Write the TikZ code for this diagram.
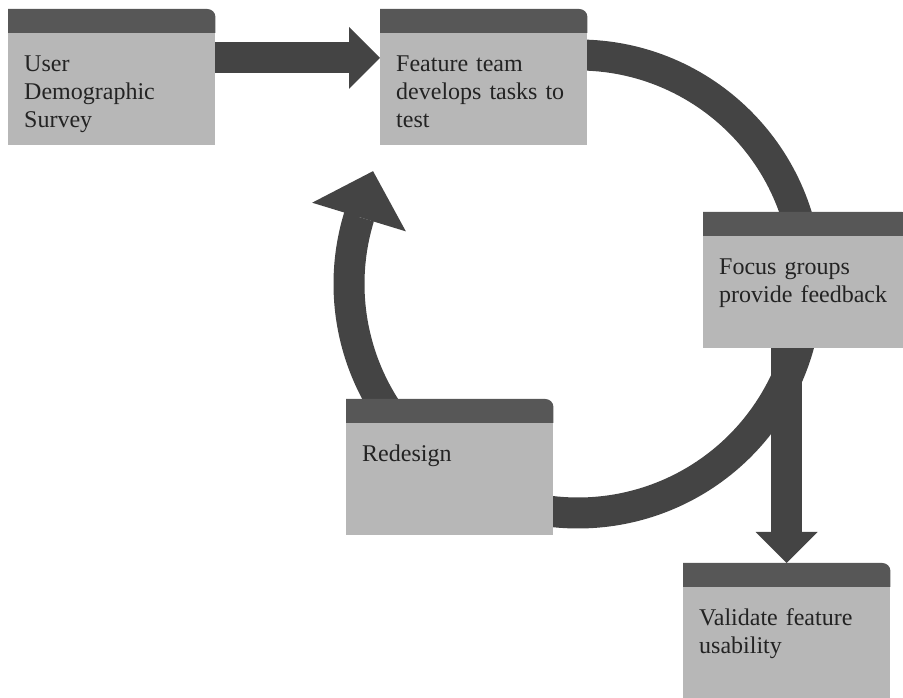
\documentclass[tikz,border=0pt]{standalone}
\usepackage{fontspec}
\setmainfont{Liberation Serif}
\usetikzlibrary{arrows.meta,calc}
\definecolor{Ink}{RGB}{35,35,35}
\definecolor{CardGray}{RGB}{183,183,183}
\definecolor{TabGray}{RGB}{87,87,87}
\definecolor{FlowGray}{RGB}{68,68,68}
\pgfdeclarelayer{flows}
\pgfdeclarelayer{cards}
\pgfsetlayers{flows,cards,main}
\newcommand{\cardfont}{\fontsize{24}{28}\selectfont}
\tikzset{
  card/.style={rectangle,anchor=north west,inner xsep=16pt,inner ysep=0pt,text width=175pt,text height=62pt,text depth=74pt,align=left,font=\cardfont,text=Ink},
  flow/.style={draw=FlowGray,line width=31pt},
  flowtip/.style={flow,-{Triangle[width=62pt,length=31pt,line width=0pt,fill=FlowGray]}},
  looptip/.style={flow,-{Triangle[width=98pt,length=48pt,line width=0pt,fill=FlowGray]}}
}
\begin{document}
\begin{tikzpicture}[x=1pt,y=1pt]
\useasboundingbox (0,0) rectangle (903,698);
\coordinate (hub) at (578,414);

\node[card] (survey) at (8,689) {User\\Demographic\\Survey};
\node[card] (tasks) at (380,689) {Feature team\\develops tasks to\\test};
\node[card] (focus) at (703,486) {Focus groups\\provide feedback};
\node[card] (redesign) at (346,299) {Redesign};
\node[card] (validate) at (683,135) {Validate feature\\usability};

\begin{pgfonlayer}{cards}
\foreach \cardname in {survey,tasks,focus,redesign,validate}{
  \fill[CardGray] (\cardname.south west) rectangle ([yshift=-24pt]\cardname.north east);
  \fill[TabGray] ([yshift=-24pt]\cardname.north west) -- (\cardname.north west) -- ([xshift=-8pt]\cardname.north east) arc[start angle=90,end angle=0,radius=8pt] -- ([yshift=-24pt]\cardname.north east) -- cycle;
}
\end{pgfonlayer}

\begin{pgfonlayer}{flows}
\draw[flowtip] ([yshift=-49pt]survey.north east) -- ([yshift=-49pt]tasks.north west);
\draw[flow] ($(hub)+(90:229pt)$) arc[start angle=90,end angle=-98,radius=229pt];
\draw[flowtip] (validate.north |- focus.center) -- (validate.north);
\draw[looptip] ($(hub)+(214:229pt)$) arc[start angle=214,end angle=163,radius=229pt] -- ++(73:48pt);
\end{pgfonlayer}
\end{tikzpicture}
\end{document}
